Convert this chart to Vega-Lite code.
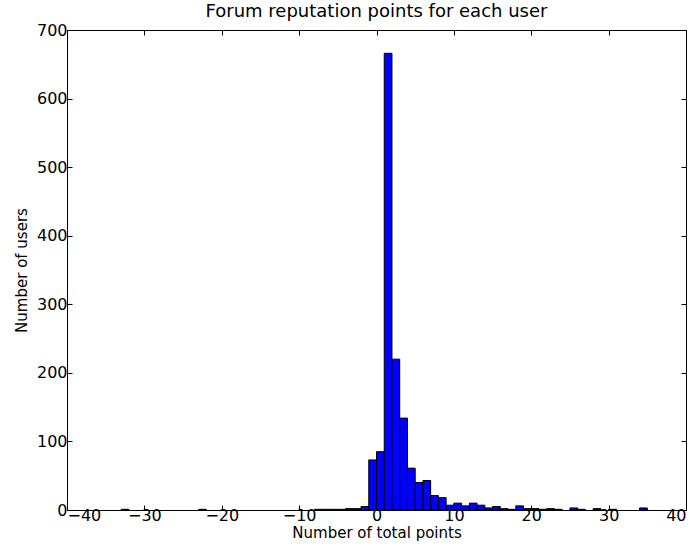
{
  "$schema": "https://vega.github.io/schema/vega-lite/v6.json",
  "autosize": {"type": "none"},
  "width": 619,
  "height": 480,
  "padding": {"left": 67, "top": 30, "right": 10, "bottom": 40},
  "background": "white",
  "title": {"text": "Forum reputation points for each user", "font": "DejaVu Sans", "fontSize": 18, "fontWeight": "normal", "color": "black", "offset": 1},
  "config": {
    "view": {"stroke": "black", "strokeWidth": 1},
    "axis": {"grid": false, "domain": false, "tickColor": "black", "tickSize": -5, "tickWidth": 1, "labelFont": "DejaVu Sans", "labelFontSize": 16, "labelColor": "black", "titleFont": "DejaVu Sans", "titleFontSize": 15, "titleFontWeight": "normal", "titleColor": "black"}
  },
  "data": {"values": [
    {"start": -33, "end": -32, "count": 1},
    {"start": -23, "end": -22, "count": 1},
    {"start": -8, "end": -7, "count": 1},
    {"start": -7, "end": -6, "count": 1},
    {"start": -6, "end": -5, "count": 1},
    {"start": -5, "end": -4, "count": 1},
    {"start": -4, "end": -3, "count": 2},
    {"start": -3, "end": -2, "count": 2},
    {"start": -2, "end": -1, "count": 5},
    {"start": -1, "end": 0, "count": 73},
    {"start": 0, "end": 1, "count": 85},
    {"start": 1, "end": 2, "count": 666},
    {"start": 2, "end": 3, "count": 220},
    {"start": 3, "end": 4, "count": 134},
    {"start": 4, "end": 5, "count": 61},
    {"start": 5, "end": 6, "count": 40},
    {"start": 6, "end": 7, "count": 43},
    {"start": 7, "end": 8, "count": 21},
    {"start": 8, "end": 9, "count": 18},
    {"start": 9, "end": 10, "count": 7},
    {"start": 10, "end": 11, "count": 10},
    {"start": 11, "end": 12, "count": 6},
    {"start": 12, "end": 13, "count": 10},
    {"start": 13, "end": 14, "count": 7},
    {"start": 14, "end": 15, "count": 3},
    {"start": 15, "end": 16, "count": 5},
    {"start": 16, "end": 17, "count": 2},
    {"start": 17, "end": 18, "count": 1},
    {"start": 18, "end": 19, "count": 6},
    {"start": 19, "end": 20, "count": 2},
    {"start": 20, "end": 21, "count": 2},
    {"start": 21, "end": 22, "count": 1},
    {"start": 22, "end": 23, "count": 2},
    {"start": 23, "end": 24, "count": 1},
    {"start": 25, "end": 26, "count": 3},
    {"start": 26, "end": 27, "count": 1},
    {"start": 28, "end": 29, "count": 2},
    {"start": 30, "end": 31, "count": 1},
    {"start": 34, "end": 35, "count": 3}
  ]},
  "layer": [
    {
      "mark": {"type": "bar", "color": "#0000ff", "stroke": "black", "strokeWidth": 1},
      "encoding": {
        "x": {"field": "start", "type": "quantitative", "scale": {"domain": [-40, 40], "nice": false}, "axis": {"orient": "bottom", "values": [-40, -30, -20, -10, 0, 10, 20, 30, 40], "title": "Number of total points", "labelPadding": 2, "titlePadding": 2, "labelExpr": "replace(datum.label, '-', '\u2212')"}},
        "x2": {"field": "end"},
        "y": {"field": "count", "type": "quantitative", "scale": {"domain": [0, 700], "nice": false}, "axis": {"orient": "left", "values": [0, 100, 200, 300, 400, 500, 600, 700], "title": "Number of users", "labelPadding": 5, "titlePadding": 7}},
        "y2": {"datum": 0}
      }
    },
    {
      "mark": {"type": "rule", "opacity": 0},
      "encoding": {
        "x": {"field": "start", "type": "quantitative", "axis": {"orient": "top", "values": [-40, -30, -20, -10, 0, 10, 20, 30, 40], "labels": false, "title": null}},
        "y": {"field": "count", "type": "quantitative", "axis": {"orient": "right", "values": [0, 100, 200, 300, 400, 500, 600, 700], "labels": false, "title": null}}
      }
    }
  ],
  "resolve": {"axis": {"x": "independent", "y": "independent"}}
}
